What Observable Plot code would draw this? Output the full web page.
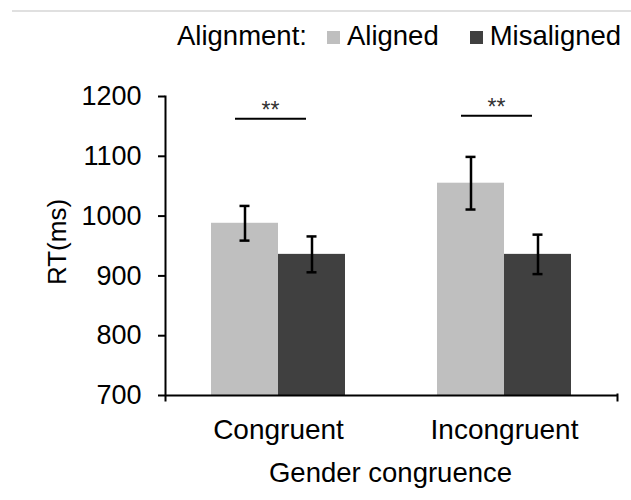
<!DOCTYPE html>
<html>
<head>
<meta charset="utf-8">
<script src="https://cdn.jsdelivr.net/npm/d3@7"></script>
<script src="https://cdn.jsdelivr.net/npm/@observablehq/plot@0.6"></script>
<style>
  html, body { margin: 0; padding: 0; background: #fff; }
  body { position: relative; width: 631px; height: 500px; overflow: hidden; font-family: "Liberation Sans", Arial, sans-serif; }
  #topline { position: absolute; top: 10px; left: 12px; width: 619px; height: 2px; background: #e0e0e0; }
  #legend { position: absolute; top: 22px; left: 177px; display: flex; align-items: center; font-size: 27.5px; line-height: 27px; color: #000; white-space: nowrap; }
  #legend .sw { width: 13px; height: 13px; display: inline-block; margin-right: 7px; margin-top: 4px; }
  #chart { position: absolute; top: 60px; left: 0; }
</style>
</head>
<body>
<div id="topline"></div>
<div id="legend"></div>
<div id="chart"></div>
<script>
const categories = ["Congruent", "Incongruent"];
const alignments = ["Aligned", "Misaligned"];
const alignedRT = [988, 1055];
const misalignedRT = [936, 936];
const alignedSE = [29, 44];
const misalignedSE = [30, 33];
const yDomain = [700, 1200];
const yTicks = [700, 800, 900, 1000, 1100, 1200];
const sigY = [1163, 1168];
const sigLabels = ["**", "**"];
const colors = ["#bfbfbf", "#404040"];
const legendTitle = "Alignment:";
const xTitle = "Gender congruence";
const yTitle = "RT(ms)";

const rows = [];
categories.forEach((c, i) => {
  rows.push({cat: c, align: alignments[0], rt: alignedRT[i], se: alignedSE[i]});
  rows.push({cat: c, align: alignments[1], rt: misalignedRT[i], se: misalignedSE[i]});
});
const sig = categories.map((c, i) => ({cat: c, y: sigY[i], label: sigLabels[i]}));

// legend
const legend = document.getElementById("legend");
const t = document.createElement("span");
t.textContent = legendTitle;
t.style.marginRight = "20px";
legend.appendChild(t);
alignments.forEach((a, i) => {
  const sw = document.createElement("span");
  sw.className = "sw";
  sw.style.background = colors[i];
  legend.appendChild(sw);
  const lab = document.createElement("span");
  lab.textContent = a;
  if (i === 0) lab.style.marginRight = "31px";
  legend.appendChild(lab);
});

const chart = Plot.plot({
  width: 631,
  height: 440,
  marginLeft: 164,
  marginRight: 14,
  marginTop: 36,
  marginBottom: 105,
  style: {fontFamily: "Liberation Sans, Arial, sans-serif", color: "#000", background: "#fff", overflow: "visible"},
  fx: {domain: categories, padding: 0, label: null},
  x: {domain: alignments, paddingInner: 0, paddingOuter: 0.675, axis: null},
  y: {domain: yDomain, label: null},
  color: {domain: alignments, range: colors},
  marks: [
    Plot.barY(rows, {fx: "cat", x: "align", y1: yDomain[0], y2: "rt", fill: "align"}),
    Plot.ruleX(rows, {fx: "cat", x: "align", y1: d => d.rt - d.se, y2: d => d.rt + d.se, stroke: "#000", strokeWidth: 2.5}),
    Plot.tickY(rows, {fx: "cat", x: "align", y: d => d.rt - d.se, stroke: "#000", strokeWidth: 2.5, insetLeft: 28.5, insetRight: 28.5}),
    Plot.tickY(rows, {fx: "cat", x: "align", y: d => d.rt + d.se, stroke: "#000", strokeWidth: 2.5, insetLeft: 28.5, insetRight: 28.5}),
    Plot.ruleY(sig, {fx: "cat", y: "y", stroke: "#000", strokeWidth: 2, insetLeft: 70, insetRight: 85}),
    Plot.text(sig, {fx: "cat", y: "y", text: "label", fontSize: 23, fill: "#333", lineAnchor: "bottom", dx: -8, dy: -1}),
    Plot.ruleY([yDomain[0]], {stroke: "#000", strokeWidth: 2}),
    Plot.frame({anchor: "left", facetAnchor: "left", stroke: "#000", strokeWidth: 2, insetBottom: -5}),
    Plot.frame({anchor: "right", facetAnchor: "right", stroke: "#000", strokeWidth: 2, insetTop: 298, insetBottom: -5}),
    Plot.axisY({ticks: yTicks, tickSize: 7, tickPadding: 17, fontSize: 27, strokeWidth: 2, label: null, tickFormat: d => String(d)}),
    Plot.axisFx({anchor: "bottom", tickSize: 0, tickPadding: 24, fontSize: 28, label: null}),
    Plot.text([{cat: categories[0], label: yTitle}], {fx: "cat", text: "label", frameAnchor: "left", textAnchor: "middle", rotate: -90, fontSize: 26, dx: -108, dy: -4})
  ]
});
document.getElementById("chart").appendChild(chart);

// x title below the plot area, centered on the frame
const svg = chart.tagName.toLowerCase() === "svg" ? chart : chart.querySelector("svg");
const ns = "http://www.w3.org/2000/svg";
const xt = document.createElementNS(ns, "text");
xt.setAttribute("x", (164 + (631 - 14)) / 2);
xt.setAttribute("y", 421.5);
xt.setAttribute("text-anchor", "middle");
xt.setAttribute("font-size", 27.5);
xt.setAttribute("fill", "#000");
xt.textContent = xTitle;
svg.appendChild(xt);
</script>
</body>
</html>
